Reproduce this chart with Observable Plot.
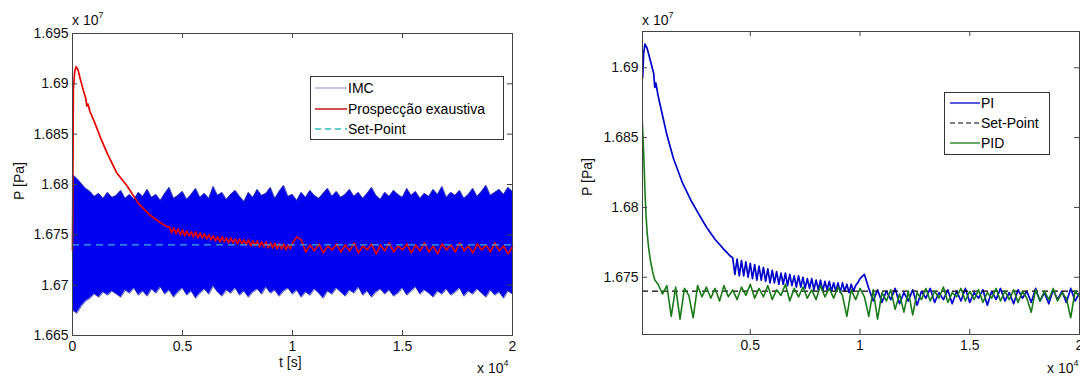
<!DOCTYPE html>
<html><head><meta charset="utf-8">
<script src="https://cdn.jsdelivr.net/npm/d3@7"></script>
<script src="https://cdn.jsdelivr.net/npm/@observablehq/plot@0.6"></script>
<style>
html,body{margin:0;padding:0;background:#fff;}
#wrap{position:relative;width:1080px;height:377px;overflow:hidden;font-family:"Liberation Sans",Arial,sans-serif;color:#111;}
.panel{position:absolute;top:0;}
.panel svg{max-width:none !important;}
.t{position:absolute;font-size:14px;white-space:nowrap;line-height:1;}
.t sup{font-size:9px;vertical-align:7px;line-height:0;}
.rot{transform:translate(-50%,-50%) rotate(-90deg);}
.leg{position:absolute;}
</style>
</head><body>
<div id="wrap">
  <div id="left" class="panel" style="left:0;width:540px"></div>
  <div id="right" class="panel" style="left:540px;width:600px"></div>
  <div class="t" style="left:72px;top:13px">x 10<sup>7</sup></div>
  <div class="t" style="left:642px;top:13px">x 10<sup>7</sup></div>
  <div class="t" style="left:477px;top:361px">x 10<sup>4</sup></div>
  <div class="t" style="left:1047px;top:361px">x 10<sup>4</sup></div>
  <div class="t" style="left:279px;top:355px">t [s]</div>
  <div class="t rot" style="left:19px;top:181px">P [Pa]</div>
  <div class="t rot" style="left:587px;top:177px">P [Pa]</div>
  <svg class="leg" style="left:310px;top:76px" width="194" height="64" font-family="Liberation Sans, Arial, sans-serif" font-size="14">
    <rect x="0.5" y="0.5" width="193" height="63" fill="#fff" stroke="#333"/>
    <line x1="5" x2="37" y1="12" y2="12" stroke="#8a8ccc" stroke-width="1"/>
    <text x="38" y="17">IMC</text>
    <line x1="5" x2="37" y1="33" y2="33" stroke="#c01818" stroke-width="1.5"/>
    <text x="38" y="38">Prospecção exaustiva</text>
    <line x1="5" x2="37" y1="53" y2="53" stroke="#2ec0c0" stroke-width="1.3" stroke-dasharray="6,4"/>
    <text x="38" y="58">Set-Point</text>
  </svg>
  <svg class="leg" style="left:944px;top:92px" width="106" height="63" font-family="Liberation Sans, Arial, sans-serif" font-size="14">
    <rect x="0.5" y="0.5" width="105" height="62" fill="#fff" stroke="#333"/>
    <line x1="6" x2="36" y1="11" y2="11" stroke="#0000cc" stroke-width="1.3"/>
    <text x="37" y="16">PI</text>
    <line x1="6" x2="36" y1="31" y2="31" stroke="#000" stroke-width="1.2" stroke-dasharray="5,3"/>
    <text x="37" y="36">Set-Point</text>
    <line x1="6" x2="36" y1="51" y2="51" stroke="#1a7a1a" stroke-width="1.3"/>
    <text x="37" y="56">PID</text>
  </svg>
</div>
<script>
// ---------- Left panel data (t in x10^4 s, P in x10^7 Pa) ----------
const leftXTicks = [0, 0.5, 1, 1.5, 2];
const leftYTicks = [1.665, 1.67, 1.675, 1.68, 1.685, 1.69, 1.695];
const setPoint = 1.674;
const imcStep = 0.02;
const imcUpper = [1.6810,1.6806,1.6801,1.6796,1.6793,1.6788,1.6791,1.6786,1.6792,1.6787,
1.6789,1.6794,1.6786,1.6790,1.6785,1.6792,1.6788,1.6795,1.6787,1.6790,
1.6784,1.6791,1.6797,1.6786,1.6789,1.6793,1.6785,1.6790,1.6796,1.6787,
1.6791,1.6786,1.6798,1.6789,1.6792,1.6785,1.6790,1.6794,1.6788,1.6783,
1.6792,1.6787,1.6795,1.6789,1.6791,1.6797,1.6786,1.6793,1.6799,1.6788,
1.6790,1.6784,1.6792,1.6787,1.6794,1.6789,1.6786,1.6791,1.6796,1.6788,
1.6793,1.6787,1.6790,1.6795,1.6788,1.6792,1.6786,1.6791,1.6797,1.6789,
1.6785,1.6792,1.6788,1.6794,1.6790,1.6787,1.6796,1.6789,1.6793,1.6786,
1.6791,1.6788,1.6795,1.6790,1.6798,1.6787,1.6792,1.6789,1.6794,1.6786,
1.6790,1.6796,1.6788,1.6793,1.6799,1.6789,1.6792,1.6795,1.6790,1.6797,1.6793];
const imcLower = [1.6675,1.6672,1.6679,1.6684,1.6687,1.6691,1.6688,1.6693,1.6690,1.6694,
1.6691,1.6688,1.6695,1.6692,1.6697,1.6690,1.6694,1.6689,1.6696,1.6692,
1.6698,1.6691,1.6695,1.6688,1.6693,1.6697,1.6690,1.6694,1.6687,1.6692,
1.6696,1.6691,1.6699,1.6693,1.6689,1.6695,1.6692,1.6697,1.6690,1.6694,
1.6688,1.6693,1.6696,1.6691,1.6698,1.6692,1.6695,1.6689,1.6694,1.6697,
1.6691,1.6695,1.6688,1.6693,1.6690,1.6696,1.6692,1.6687,1.6694,1.6691,
1.6697,1.6693,1.6689,1.6695,1.6692,1.6698,1.6690,1.6694,1.6688,1.6693,
1.6696,1.6691,1.6695,1.6689,1.6692,1.6697,1.6690,1.6694,1.6698,1.6691,
1.6695,1.6692,1.6688,1.6694,1.6691,1.6696,1.6690,1.6693,1.6697,1.6689,
1.6694,1.6691,1.6696,1.6692,1.6688,1.6695,1.6690,1.6693,1.6687,1.6694,1.6691];
const exaHeadT = [0,0.004,0.01,0.016,0.025,0.035,0.05,0.06,0.065,0.07,0.08,0.1,0.13,0.16,0.2,0.25,0.3,0.35,0.4,0.43];
const exaHeadP = [1.6735,1.6895,1.6912,1.6917,1.6914,1.6905,1.6893,1.6886,1.6878,1.6880,1.6872,1.6862,1.6845,1.6830,1.6812,1.6798,1.6781,1.6770,1.6762,1.6758];
// spiky decay, sampled every 0.01 from 0.44 to 1.00
const exaMidStart = 0.44, exaMidStep = 0.01;
const exaMidP = [1.6758,1.6752,1.6757,1.6751,1.6756,1.6750,1.6755,1.6749,1.6754,1.6749,
1.6753,1.6748,1.6753,1.6747,1.6752,1.6747,1.6751,1.6746,1.6750,1.6745,
1.6749,1.6744,1.6748,1.6743,1.6748,1.6743,1.6747,1.6742,1.6747,1.6742,
1.6746,1.6741,1.6746,1.6741,1.6745,1.6740,1.6745,1.6739,1.6744,1.6739,
1.6744,1.6738,1.6743,1.6738,1.6743,1.6737,1.6742,1.6737,1.6742,1.6736,
1.6741,1.6736,1.6741,1.6735,1.6740,1.6736,1.6742];
// steady state, sampled every 0.02 from 1.02 to 2.00
const exaTailStart = 1.02, exaTailStep = 0.02;
const exaTailP = [1.6748,1.6745,1.6733,1.6740,1.6734,1.6741,1.6732,1.6739,1.6735,1.6741,
1.6733,1.6740,1.6734,1.6742,1.6732,1.6739,1.6735,1.6741,1.6731,1.6740,
1.6734,1.6742,1.6733,1.6739,1.6735,1.6741,1.6732,1.6740,1.6734,1.6742,
1.6733,1.6739,1.6731,1.6741,1.6735,1.6740,1.6733,1.6742,1.6734,1.6739,
1.6732,1.6741,1.6735,1.6740,1.6733,1.6742,1.6734,1.6739,1.6731,1.6738];

// ---------- Right panel data ----------
const rightXTicks = [0.5, 1, 1.5, 2];
const rightYTicks = [1.675, 1.68, 1.685, 1.69];
const piHeadT = [0.01,0.014,0.02,0.03,0.045,0.055,0.06,0.065,0.07,0.08,0.09,0.1,0.12,0.15,0.19,0.23,0.27,0.3,0.34,0.38,0.41];
const piHeadP = [1.6893,1.6910,1.6917,1.6914,1.6905,1.6899,1.6896,1.6886,1.6889,1.6880,1.6873,1.6866,1.6852,1.6835,1.6818,1.6805,1.6794,1.6786,1.6777,1.6770,1.6765];
const piMidStart = 0.42, piMidStep = 0.01;
const piMidP = [1.6764,1.6752,1.6763,1.6751,1.6762,1.6751,1.6761,1.6750,1.6760,1.6749,
1.6759,1.6748,1.6758,1.6748,1.6757,1.6747,1.6756,1.6746,1.6755,1.6746,
1.6754,1.6745,1.6753,1.6745,1.6753,1.6744,1.6752,1.6744,1.6751,1.6743,
1.6751,1.6743,1.6750,1.6742,1.6749,1.6742,1.6749,1.6741,1.6748,1.6741,
1.6748,1.6740,1.6747,1.6741,1.6747,1.6740,1.6746,1.6740,1.6746,1.6739,
1.6746,1.6740,1.6745,1.6739,1.6745,1.6740,1.6744,1.6746,1.6749];
const piTailStart = 1.02, piTailStep = 0.02;
const piTailP = [1.6752,1.6742,1.6733,1.6741,1.6732,1.6740,1.6734,1.6742,1.6731,1.6739,
1.6733,1.6741,1.6730,1.6740,1.6735,1.6742,1.6732,1.6739,1.6734,1.6741,
1.6731,1.6740,1.6733,1.6742,1.6732,1.6739,1.6735,1.6741,1.6730,1.6740,
1.6734,1.6742,1.6733,1.6739,1.6731,1.6741,1.6735,1.6740,1.6732,1.6742,
1.6733,1.6739,1.6731,1.6741,1.6734,1.6740,1.6732,1.6742,1.6733,1.6739];
const pidHeadT = [0.004,0.008,0.012,0.016,0.02,0.025,0.03,0.037,0.045,0.055,0.065];
const pidHeadP = [1.6876,1.6862,1.6848,1.6832,1.6812,1.6795,1.6782,1.6771,1.6762,1.6754,1.6748];
const pidTailStart = 0.08, pidTailStep = 0.02;
const pidTailP = [1.6745,1.6738,1.6744,1.6722,1.6743,1.6720,1.6742,1.6737,1.6721,1.6744,
1.6736,1.6743,1.6735,1.6742,1.6733,1.6744,1.6736,1.6741,1.6734,1.6743,
1.6737,1.6745,1.6735,1.6742,1.6736,1.6744,1.6734,1.6741,1.6737,1.6745,
1.6733,1.6742,1.6736,1.6743,1.6735,1.6741,1.6734,1.6744,1.6736,1.6742,
1.6735,1.6743,1.6737,1.6722,1.6741,1.6734,1.6742,1.6736,1.6722,1.6741,
1.6720,1.6739,1.6733,1.6741,1.6727,1.6738,1.6725,1.6740,1.6723,1.6739,
1.6734,1.6742,1.6733,1.6740,1.6735,1.6743,1.6732,1.6739,1.6736,1.6742,
1.6733,1.6740,1.6734,1.6741,1.6732,1.6739,1.6735,1.6742,1.6733,1.6740,
1.6734,1.6741,1.6732,1.6740,1.6735,1.6725,1.6741,1.6733,1.6740,1.6734,
1.6742,1.6733,1.6739,1.6735,1.6721,1.6740,1.6736];

// ---------- build tables ----------
const imc = imcUpper.map((u, i) => ({t: i * imcStep, hi: u, lo: imcLower[i]}));
const head = (T, P) => T.map((t, i) => ({t, p: P[i]}));
const sampled = (start, step, P) => P.map((p, i) => ({t: +(start + i * step).toFixed(4), p}));
const exa = [...head(exaHeadT, exaHeadP), ...sampled(exaMidStart, exaMidStep, exaMidP), ...sampled(exaTailStart, exaTailStep, exaTailP)];
const pi = [...head(piHeadT, piHeadP), ...sampled(piMidStart, piMidStep, piMidP), ...sampled(piTailStart, piTailStep, piTailP)];
const pid = [...head(pidHeadT, pidHeadP), ...sampled(pidTailStart, pidTailStep, pidTailP)];

const fmt = d => String(+d.toFixed(4));
const style = {fontFamily: '"Liberation Sans", Arial, sans-serif', fontSize: "14px", color: "#111", background: "transparent", overflow: "visible", maxWidth: "none"};
const TICK = 5;
function axes(xt, yt, pw, ph) {
  return [
    // inward tick marks on all four sides
    Plot.ruleX(xt, {x: d => d, insetTop: ph - TICK, stroke: "#444"}),
    Plot.ruleX(xt, {x: d => d, insetBottom: ph - TICK, stroke: "#444"}),
    Plot.ruleY(yt, {y: d => d, insetRight: pw - TICK, stroke: "#444"}),
    Plot.ruleY(yt, {y: d => d, insetLeft: pw - TICK, stroke: "#444"}),
    Plot.axisX({anchor: "bottom", ticks: xt, tickSize: 0, tickPadding: 6, tickFormat: fmt, label: null}),
    Plot.axisY({anchor: "left", ticks: yt, tickSize: 0, tickPadding: 4, tickFormat: fmt, label: null}),
    Plot.frame({stroke: "#444"})
  ];
}

const L = {w: 540, h: 377, ml: 72, mr: 28, mt: 33, mb: 42};
const left = Plot.plot({
  width: L.w, height: L.h,
  marginLeft: L.ml, marginRight: L.mr, marginTop: L.mt, marginBottom: L.mb,
  style,
  x: {domain: [0, 2]},
  y: {domain: [1.665, 1.695]},
  marks: [
    Plot.areaY(imc, {x: "t", y1: "lo", y2: "hi", fill: "#0000f0"}),
    Plot.line(imc, {x: "t", y: "hi", stroke: "#28309a", strokeWidth: 0.8}),
    Plot.line(imc, {x: "t", y: "lo", stroke: "#28309a", strokeWidth: 0.8}),
    Plot.line(exa, {x: "t", y: "p", stroke: "#e60000", strokeWidth: 1.7}),
    Plot.ruleY([setPoint], {stroke: "#3aaedc", strokeWidth: 1.3, strokeDasharray: "7,5"}),
    ...axes(leftXTicks, leftYTicks, L.w - L.ml - L.mr, L.h - L.mt - L.mb)
  ]
});
document.getElementById("left").appendChild(left);

const R = {w: 600, h: 377, ml: 102, mr: 61, mt: 31, mb: 43};
const right = Plot.plot({
  width: R.w, height: R.h,
  marginLeft: R.ml, marginRight: R.mr, marginTop: R.mt, marginBottom: R.mb,
  style,
  x: {domain: [0.009, 2]},
  y: {domain: [1.6709, 1.6926]},
  marks: [
    Plot.line(pi, {x: "t", y: "p", stroke: "#0000cc", strokeWidth: 1.7, clip: true}),
    Plot.ruleY([setPoint], {stroke: "#000", strokeWidth: 1.2, strokeDasharray: "6,4"}),
    Plot.line(pid, {x: "t", y: "p", stroke: "#1a7a1a", strokeWidth: 1.6, clip: true}),
    ...axes(rightXTicks, rightYTicks, R.w - R.ml - R.mr, R.h - R.mt - R.mb)
  ]
});
document.getElementById("right").appendChild(right);
</script>
</body></html>
